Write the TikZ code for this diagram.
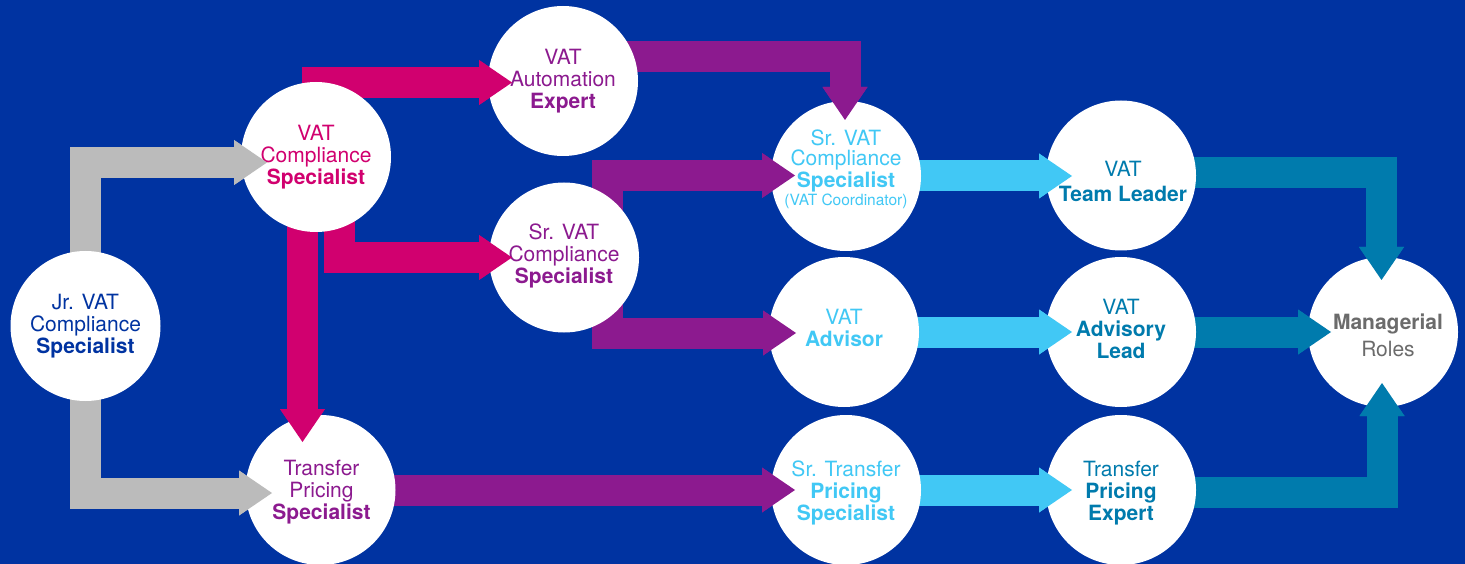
\documentclass[tikz,border=0pt]{standalone}
\usepackage{fontspec}
\setmainfont{TeX Gyre Heros}
\usetikzlibrary{arrows.meta,calc,backgrounds}
\definecolor{bgblue}{HTML}{0033A1}
\definecolor{bandgray}{HTML}{BBBBBB}
\definecolor{rolepink}{HTML}{D1006F}
\definecolor{rolepurple}{HTML}{8C1A8F}
\definecolor{rolesky}{HTML}{41C8F5}
\definecolor{roleteal}{HTML}{007BAD}
\definecolor{rolegray}{HTML}{6B6B6B}
\begin{document}
\begin{tikzpicture}
[x=1pt,y=-1pt,
  roledecorate/.style={shape=circle,fill=white,minimum size=150pt,inner sep=0pt},
  textdecorate/.style={align=center,inner sep=0pt,font=\fontsize{21}{22}\selectfont},
  banddecorate/.style={line width=31pt,%
    -{Triangle[width=45pt,length=33pt,line width=0pt]}}]
\useasboundingbox (0,0) rectangle (1465,564);
%% roles
\foreach \nodename/\x/\y/\dx/\dy/\colr/\rolename in {
  jr/85.5/326/0/0/bgblue/{Jr. VAT\\Compliance\\\textbf{Specialist}},
  vcs/316/157/0/0/rolepink/{VAT\\Compliance\\\textbf{Specialist}},
  tps/320.5/490/1/2/rolepurple/{Transfer\\Pricing\\\textbf{Specialist}},
  vae/563/81/0/0/rolepurple/{VAT\\Automation\\\textbf{Expert}},
  svcs/564/257.5/0/-2/rolepurple/{Sr. VAT\\Compliance\\\textbf{Specialist}},
  svcc/846/176/0/-7/rolesky/{Sr. VAT\\[-2pt]Compliance\\\textbf{Specialist}\\[-4pt]{\fontsize{15.5}{17}\selectfont (VAT Coordinator)}},
  adv/844/332/0/-4/rolesky/{VAT\\\textbf{Advisor}},
  stps/846/490/0/3/rolesky/{Sr. Transfer\\\textbf{Pricing}\\\textbf{Specialist}},
  tl/1121/175.5/2/6/roleteal/{VAT\\[3pt]\textbf{Team Leader}},
  avl/1121/332/0/-3/roleteal/{VAT\\\textbf{Advisory}\\\textbf{Lead}},
  tpe/1121/490/0/3/roleteal/{Transfer\\\textbf{Pricing}\\\textbf{Expert}},
  mgr/1383/332/5/3/rolegray/{\textbf{Managerial}\\[5pt]Roles}}
{
  \node (\nodename) at (\x,\y) [roledecorate] {};
  \node at ($(\nodename)+(\dx,\dy)$) [textdecorate,text=\colr] {\rolename};
}
%% arrow tips
\foreach \tipname/\x/\y in {
  A/267/162.5, B/272/493, C/512/82.5, D/512/257.5, E/302.5/442,
  F/845/120, G/795/175.5, H/796/333, I/795/490,
  J/1072/176, K/1072/332, L/1072/490,
  M/1381.5/280, N/1331/332, O/1382/383}
{
  \coordinate (t\tipname) at (\x,\y);
}
%% bands, under the roles
\begin{pgfonlayer}{background}
\fill[bgblue] (0,0) rectangle (1465,564);
\draw[banddecorate,bandgray] (jr.center) |- (tA);
\draw[banddecorate,bandgray] (jr.center) |- (tB);
\draw[banddecorate,rolepink] ($(vcs)+(1,0)$) |- (tC);
\draw[banddecorate,rolepink] ($(vcs)+(23.5,0)$) |- (tD);
\draw[banddecorate,rolepink] ($(vcs)+(-13.5,0)$) -- (tE);
\draw[banddecorate,rolepurple] ($(vae)+(0,-24.5)$) -| (tF);
\draw[banddecorate,rolepurple] ($(svcs)+(43.5,0)$) |- (tG);
\draw[banddecorate,rolepurple] ($(svcs)+(43.5,0)$) |- (tH);
\draw[banddecorate,rolepurple] (tps.center) -- (tI);
\draw[banddecorate,rolesky] (svcc.center) -- (tJ);
\draw[banddecorate,rolesky] (adv.center) -- (tK);
\draw[banddecorate,rolesky] (stps.center) -- (tL);
\draw[banddecorate,roleteal] ($(tl)+(0,-3)$) -| (tM);
\draw[banddecorate,roleteal] (avl.center) -- (tN);
\draw[banddecorate,roleteal] ($(tpe)+(0,2.5)$) -| (tO);
\end{pgfonlayer}
%% heads, over the roles
\foreach \tipname/\dx/\dy/\colr in {
  A/-40/0/bandgray, B/-40/0/bandgray,
  C/-40/0/rolepink, D/-40/0/rolepink, E/0/-40/rolepink,
  F/0/-40/rolepurple, G/-40/0/rolepurple, H/-40/0/rolepurple, I/-40/0/rolepurple,
  J/-40/0/rolesky, K/-40/0/rolesky, L/-40/0/rolesky,
  M/0/-40/roleteal, N/-40/0/roleteal, O/0/40/roleteal}
{
  \draw[banddecorate,\colr] ($(t\tipname)+(\dx,\dy)$) -- (t\tipname);
}
\end{tikzpicture}
\end{document}
